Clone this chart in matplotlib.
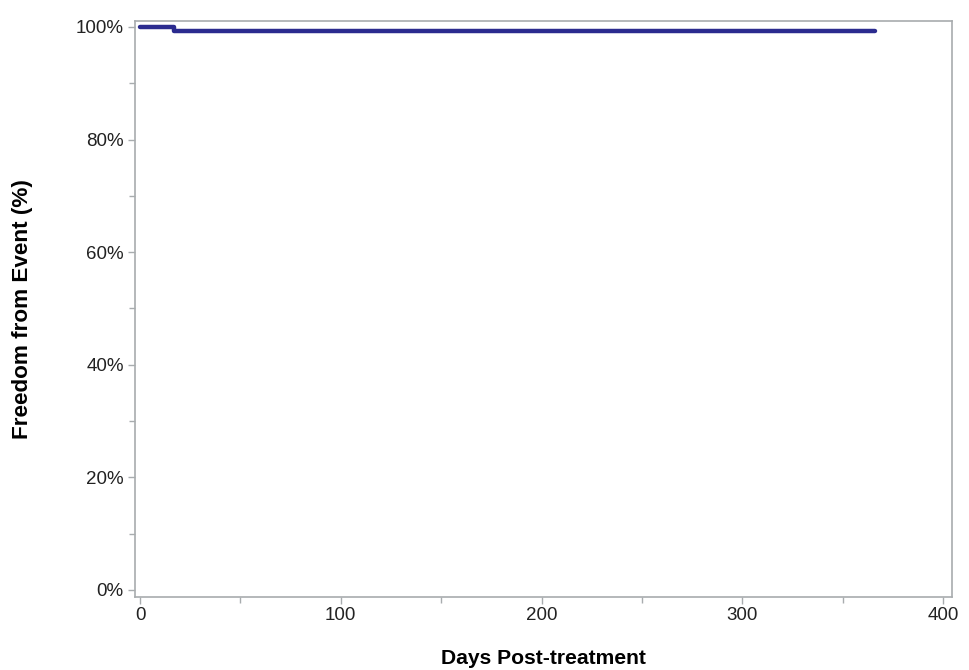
import matplotlib.pyplot as plt
from matplotlib.ticker import FuncFormatter, MultipleLocator

# Kaplan-Meier curve: step points (days, survival %)
days = [0, 17, 366]
survival = [100.0, 99.3, 99.3]

x_ticks = [0, 100, 200, 300, 400]
y_ticks = [0, 20, 40, 60, 80, 100]

plt.rcParams['font.family'] = ['Liberation Sans', 'DejaVu Sans']

fig = plt.figure(figsize=(9.69, 6.70), dpi=100)
ax = fig.add_axes([0.1393, 0.109, 0.8432, 0.8597])

ax.step(days, survival, where='post', color='#2B2B8F', linewidth=3.2,
        solid_capstyle='round')

ax.set_xlim(-2.5, 404.5)
ax.set_ylim(-1.24, 101.07)
ax.set_xticks(x_ticks)
ax.set_yticks(y_ticks)
ax.xaxis.set_minor_locator(MultipleLocator(50))
ax.yaxis.set_minor_locator(MultipleLocator(10))
ax.yaxis.set_major_formatter(FuncFormatter(lambda v, p: f'{v:.0f}%'))

for s in ax.spines.values():
    s.set_color('#A8ACAE')
    s.set_linewidth(1.2)
ax.tick_params(which='both', colors='#A8ACAE', labelcolor='#222222',
               labelsize=13.5, length=5, width=1, pad=2)
ax.tick_params(axis='y', pad=3)
ax.tick_params(which='minor', length=4)

ax.set_xlabel('Days Post-treatment', fontsize=15.2, fontweight='bold')
ax.set_ylabel('Freedom from Event (%)', fontsize=16.2, fontweight='bold')
ax.xaxis.set_label_coords(0.5, -0.09)
ax.yaxis.set_label_coords(-0.125, 0.5)

fig.savefig('out.png', dpi=100)
